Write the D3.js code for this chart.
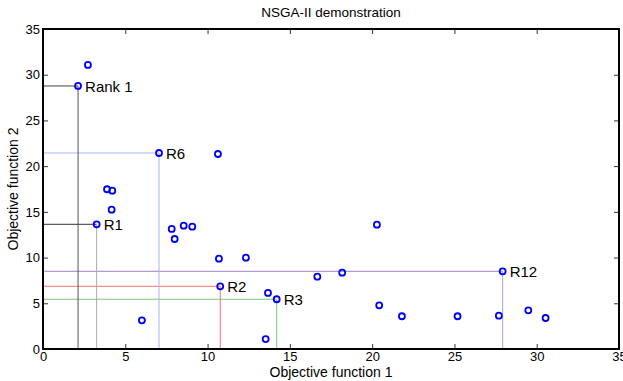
<!DOCTYPE html>
<html>
<head>
<meta charset="utf-8">
<script src="https://cdnjs.cloudflare.com/ajax/libs/d3/7.8.5/d3.min.js"></script>
<style>
  body { margin: 0; background: #fff; }
  text { font-family: Arial, "Liberation Sans", sans-serif; }
</style>
</head>
<body>
<script>

// population (objective 1, objective 2)
var obj1 = [2.73, 2.13, 7.05, 10.63, 3.89, 4.21, 4.17, 3.26, 7.82, 8.55, 9.07, 8.00,
            10.69, 12.33, 10.77, 13.67, 14.20, 6.01, 13.53, 16.67, 18.18, 20.29,
            27.93, 20.43, 21.81, 25.19, 27.70, 29.49, 30.54];
var obj2 = [31.07, 28.77, 21.44, 21.33, 17.47, 17.32, 15.24, 13.64, 13.13, 13.49, 13.38, 12.03,
            9.88, 9.99, 6.86, 6.13, 5.44, 3.14, 1.09, 7.91, 8.35, 13.60,
            8.50, 4.78, 3.58, 3.58, 3.65, 4.23, 3.39];

// highlighted front members
var rankNames = ["Rank 1", "R1", "R6", "R2", "R3", "R12"];
var rankX = [2.13, 3.26, 7.05, 10.77, 14.20, 27.93];
var rankY = [28.77, 13.64, 21.44, 6.86, 5.44, 8.50];

var xTicks = [0, 5, 10, 15, 20, 25, 30, 35];
var yTicks = [0, 5, 10, 15, 20, 25, 30, 35];

var hColor = ["#444", "#333", "#a9b6f2", "#ff6b6b", "#7cc47c", "#9a84bd"];
var vColor = ["#555", "#aaa", "#a9b6f2", "#ff6b6b", "#7cc47c", "#b89ad8"];

var W = 623, H = 381;
var margin = {top: 29, right: 4, bottom: 32, left: 43};
var width = W - margin.left - margin.right,
    height = H - margin.top - margin.bottom;

var svg = d3.select("body").append("svg")
    .attr("width", W)
    .attr("height", H);

var g = svg.append("g")
    .attr("transform", "translate(" + margin.left + "," + margin.top + ")");

var x = d3.scaleLinear().domain([0, 35]).range([0, width]);
var y = d3.scaleLinear().domain([0, 35]).range([height, 0]);

// marker lines for ranked points
var ranks = rankNames.map(function(n, i) {
  return {name: n, x: rankX[i], y: rankY[i], hc: hColor[i], vc: vColor[i]};
});

g.selectAll(".hline")
    .data(ranks)
  .enter().append("line")
    .attr("x1", x(0))
    .attr("x2", function(d) { return x(d.x); })
    .attr("y1", function(d) { return y(d.y); })
    .attr("y2", function(d) { return y(d.y); })
    .attr("stroke", function(d) { return d.hc; })
    .attr("stroke-width", 1);

g.selectAll(".vline")
    .data(ranks)
  .enter().append("line")
    .attr("x1", function(d) { return x(d.x); })
    .attr("x2", function(d) { return x(d.x); })
    .attr("y1", function(d) { return y(d.y); })
    .attr("y2", y(0))
    .attr("stroke", function(d) { return d.vc; })
    .attr("stroke-width", 1);

// axes, ticks pointing inward
function styleAxis(sel) {
  sel.select(".domain").remove();
  sel.selectAll(".tick line").attr("stroke", "#333");
  sel.selectAll(".tick text")
    .attr("fill", "#000")
    .style("font-size", "13px")
    .style("font-family", "Arial, 'Liberation Sans', sans-serif");
}

g.append("g")
    .attr("transform", "translate(0," + height + ")")
    .call(d3.axisBottom(x).tickValues(xTicks).tickSize(-5).tickPadding(3))
    .call(styleAxis);

g.append("g")
    .call(d3.axisLeft(y).tickValues(yTicks).tickSize(-5).tickPadding(3))
    .call(styleAxis);

g.append("g")
    .call(d3.axisTop(x).tickValues(xTicks).tickSize(-5).tickFormat(""))
    .call(styleAxis);

g.append("g")
    .attr("transform", "translate(" + width + ",0)")
    .call(d3.axisRight(y).tickValues(yTicks).tickSize(-5).tickFormat(""))
    .call(styleAxis);

g.append("rect")
    .attr("width", width)
    .attr("height", height)
    .attr("fill", "none")
    .attr("stroke", "#000")
    .attr("stroke-width", 2);

// population points
var pts = obj1.map(function(v, i) { return {x: v, y: obj2[i]}; });

g.selectAll(".pt")
    .data(pts)
  .enter().append("circle")
    .attr("cx", function(d) { return x(d.x); })
    .attr("cy", function(d) { return y(d.y); })
    .attr("r", 3)
    .attr("fill", "none")
    .attr("stroke", "#0000ff")
    .attr("stroke-width", 1.8);

g.selectAll(".lbl")
    .data(ranks)
  .enter().append("text")
    .attr("x", function(d) { return x(d.x) + 7; })
    .attr("y", function(d) { return y(d.y) + 6; })
    .style("font-size", "15px")
    .text(function(d) { return d.name; });

// titles
svg.append("text")
    .attr("x", margin.left + width / 2)
    .attr("y", 17)
    .attr("text-anchor", "middle")
    .style("font-size", "13.5px")
    .text("NSGA-II demonstration");

svg.append("text")
    .attr("x", margin.left + width / 2)
    .attr("y", 377)
    .attr("text-anchor", "middle")
    .style("font-size", "14px")
    .text("Objective function 1");

svg.append("text")
    .attr("transform", "translate(18," + (margin.top + height / 2) + ") rotate(-90)")
    .attr("text-anchor", "middle")
    .style("font-size", "14px")
    .text("Objective function 2");

</script>
</body>
</html>
